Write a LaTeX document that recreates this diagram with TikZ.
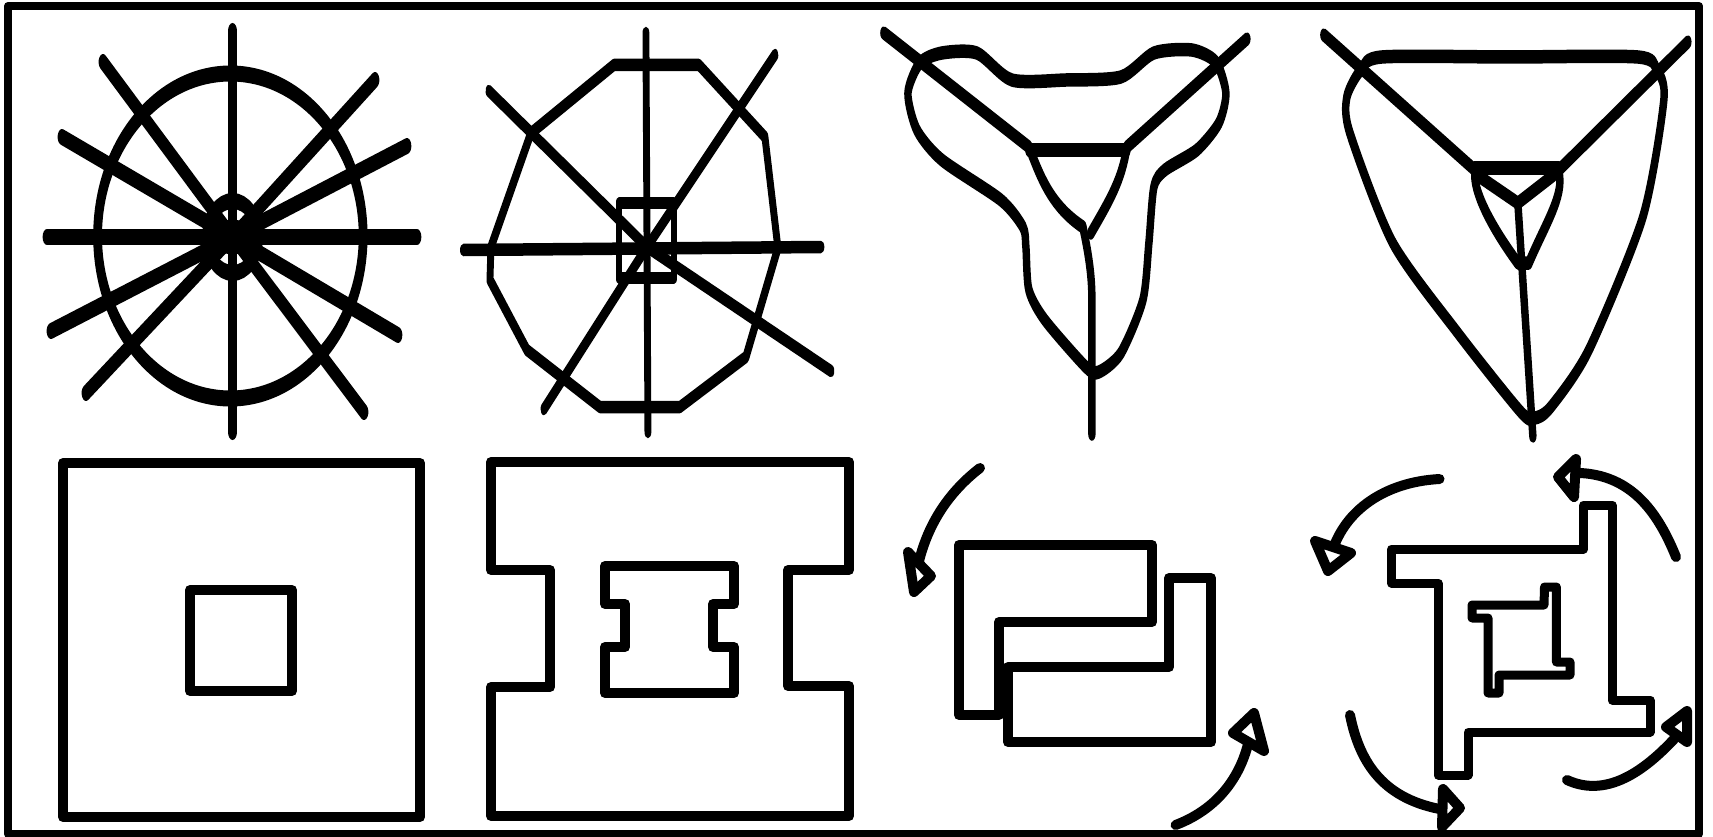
\documentclass[tikz,border=0pt]{standalone}
\tikzset{
  nib/.style={transform canvas={xscale=.55}, x=1.818pt},
  frameline/.style={line width=8pt},
  heavy/.style={line width=16pt},
  medium/.style={line width=13.5pt},
  light/.style={line width=12.5pt},
  plate/.style={line width=10pt},
  slim/.style={line width=9pt},
  head/.style={draw, fill=white, line width=10pt}
}
\begin{document}
\begin{tikzpicture}[x=1pt, y=-1pt, line join=round, line cap=round]
  \useasboundingbox (0,0) rectangle (1713,837);
  % Outer frame
  \draw[frameline, line cap=butt] (8,6) rectangle (1699,834);

  \begin{scope}[nib]
    % Wheel
    \coordinate (WC) at (232.6,237);
    \draw[heavy] (230.4,236) ellipse [x radius=132.8, y radius=162.5];
    \draw[heavy] (WC) ellipse [x radius=26, y radius=36];
    \fill (WC) ellipse [x radius=33, y radius=17];
    \draw[heavy] (232.6,31) -- (232.6,432);
    \draw[heavy] (47,237) -- (417,237);
    \draw[heavy] (103,62) -- (WC) -- (364,412);
    \draw[heavy] (375,80) -- (WC) -- (86,393);
    \draw[heavy] (62,137) -- (WC) -- (398,335);
    \draw[heavy] (407,146) -- (WC) -- (51,331);

    % Polygon with square hub
    \coordinate (PC) at (647,247);
    \draw[light] (614,65) -- (699,65) -- (765,137) -- (778,248) -- (746,357) -- (680,407)
      -- (600,407) -- (527,350) -- (490,280) -- (491,247) -- (531,133) -- cycle;
    \draw[light] (619,203) rectangle (674,278);
    \draw[light] (646,33) -- (648,432);
    \draw[light] (463.5,250) -- (821,247);
    \draw[light] (489,91) -- (PC) -- (831,371);
    \draw[light] (775,55) -- (PC) -- (544,409);

    % Lobed three-arm shape
    \draw[medium] plot[smooth cycle, tension=.45] coordinates {
      (920,63) (942,53) (977,53) (1012,80) (1066,80) (1121,77) (1154,53) (1192,50) (1216,62)
      (1226,93) (1219,123) (1197,150) (1165,170) (1154,187) (1149,243) (1143,300) (1121,353)
      (1099,372) (1086,367) (1045,320) (1029,290) (1026,247) (1023,227) (1001,200) (942,160)
      (917,130) (908,93)};
    \draw[medium] (884,33) -- (1029,147) .. controls (1040,175) and (1050,205) .. (1083,227)
      .. controls (1090,260) and (1092,280) .. (1092,300) -- (1092,434);
    \draw[medium] (1247,39) -- (1127,147) .. controls (1122,180) and (1110,200) .. (1091,233);
    \draw[medium] (1029,150) -- (1127,150);

    % Rounded triangle with inner triangle
    \draw[medium] plot[smooth cycle, tension=.45] coordinates {
      (1361,70) (1382,57) (1510,57) (1638,57) (1657,70) (1664,100) (1643,217) (1589,350)
      (1551,407) (1535,418) (1521,412) (1458,333) (1393,243) (1350,133) (1347,97)};
    \draw[medium] (1324,35) -- (1475,170);
    \draw[medium] (1688,42) -- (1559,170);
    \draw[medium] (1475,168) -- (1559,168);
    \draw[medium] (1475,172) .. controls (1473,190) and (1490,225) .. (1518,263) -- (1529,263)
      .. controls (1545,225) and (1565,195) .. (1559,172);
    \draw[medium] (1480,177) -- (1518,203) -- (1554,175);
    \draw[medium] (1518,203) -- (1533,436);
  \end{scope}

  % Solid square with square hole
  \draw[plate] (63,463) rectangle (420,817);
  \draw[plate] (190,590) rectangle (292,691);

  % Notched block with notched hole
  \draw[plate] (491,462) -- (849,462) -- (849,570) -- (788,570) -- (788,686) -- (849,686)
    -- (849,816) -- (491,816) -- (491,687) -- (550,687) -- (550,570) -- (491,570) -- cycle;
  \draw[plate] (605,566) -- (734,566) -- (734,604) -- (713,604) -- (713,647) -- (734,647)
    -- (734,693) -- (605,693) -- (605,647) -- (625,647) -- (625,604) -- (605,604) -- cycle;

  % Two interlocked pieces
  \draw[plate] (959,545) -- (1152,545) -- (1152,622) -- (999,622) -- (999,715) -- (959,715) -- cycle;
  \draw[plate] (1169,578) -- (1211,578) -- (1211,742) -- (1008,742) -- (1008,667) -- (1169,667) -- cycle;

  % Arrows around the pieces
  \draw[plate] (980,468) .. controls (945,495) and (925,530) .. (917,570);
  \draw[head] (908,552) -- (931,576) -- (914,592) -- cycle;
  \draw[plate] (1175.6,825) .. controls (1215,810) and (1240,780) .. (1249,740);
  \draw[head] (1254,713) -- (1233,733) -- (1264,751) -- cycle;

  % Pinwheel with pinwheel hole
  \draw[slim] (1391.5,549) -- (1583.6,549) -- (1583.6,505) -- (1612,505) -- (1612,700) -- (1650,700)
    -- (1650,732) -- (1468,732) -- (1468,775) -- (1438,775) -- (1438,583) -- (1391.5,583) -- cycle;
  \draw[slim] (1472,605) -- (1544,605) -- (1544.5,587) -- (1556.4,587) -- (1556.4,662) -- (1570,662)
    -- (1570,675) -- (1499,675) -- (1499,693) -- (1488,693) -- (1488,618) -- (1472,618) -- cycle;

  % Arrows around the pinwheel
  \draw[plate] (1676,557) .. controls (1655,505) and (1625,470) .. (1567,473);
  \draw[head] (1558,477) -- (1576,459) -- (1574,497) -- cycle;
  \draw[plate] (1439.5,479) .. controls (1385,482) and (1345,510) .. (1332,552);
  \draw[head] (1315,541) -- (1351,553) -- (1328,571) -- cycle;
  \draw[plate] (1350,715) .. controls (1360,765) and (1385,800) .. (1445,810);
  \draw[head] (1443,789) -- (1460,808) -- (1442,827) -- cycle;
  \draw[plate] (1567,780) .. controls (1610,800) and (1650,765) .. (1676,737);
  \draw[head] (1687,711) -- (1666,727) -- (1687,742) -- cycle;
\end{tikzpicture}
\end{document}
